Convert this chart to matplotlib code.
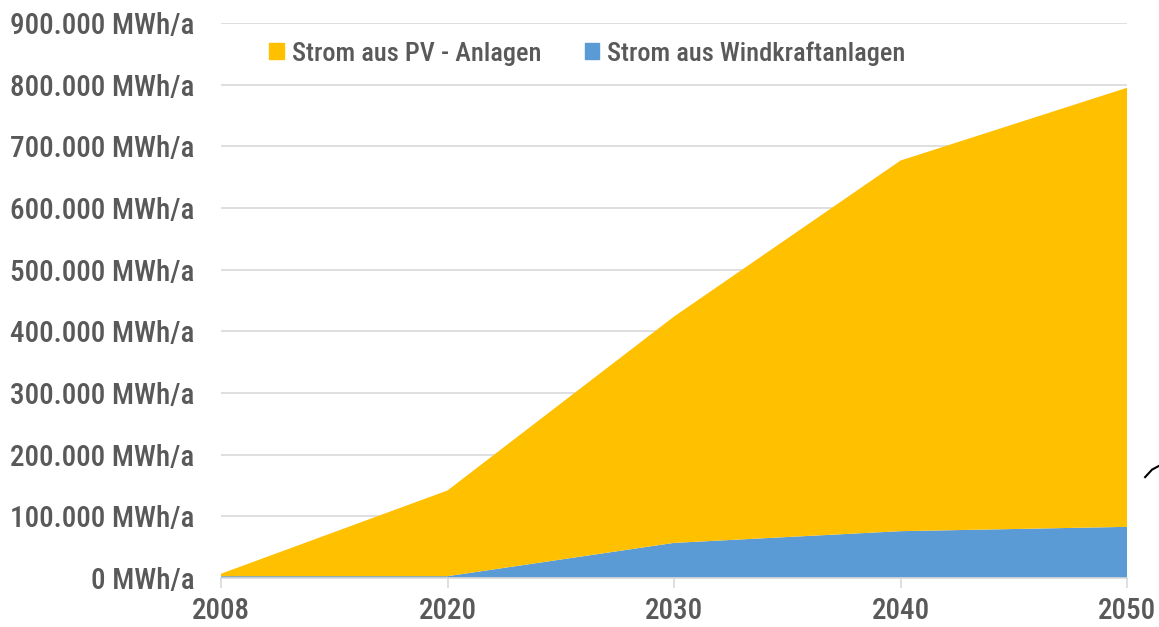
import matplotlib
matplotlib.use('Agg')
import matplotlib.pyplot as plt
from matplotlib.patches import Patch

# data (MWh/a)
years = ["2008", "2020", "2030", "2040", "2050"]
wind = [3000, 3000, 57000, 76000, 83000]
pv = [4000, 139000, 367000, 601000, 712000]

ORANGE = "#FFC000"
BLUE = "#5B9BD5"
TXT = "#595959"
GRID = "#D9D9D9"

plt.rcParams['font.family'] = ['Roboto Condensed', 'DejaVu Sans']
plt.rcParams['font.weight'] = 'medium'

fig = plt.figure(figsize=(11.59, 6.27), dpi=100, facecolor="white")
ax = fig.add_axes([0.1907, 0.0781, 0.7817, 0.8852])

x = list(range(len(years)))
ax.stackplot(x, wind, pv, colors=[BLUE, ORANGE], linewidth=0, zorder=2)

ax.set_xlim(0, len(years) - 1)
ax.set_ylim(0, 900000)
ax.set_yticks(range(0, 900001, 100000))
ax.set_yticklabels([f"{v:,}".replace(",", ".") + " MWh/a" for v in range(0, 900001, 100000)])
ax.set_xticks(x)
ax.set_xticklabels(years)

ax.grid(axis='y', color=GRID, linewidth=1.2, zorder=0)
ax.set_axisbelow(True)
for s in ['top', 'right', 'left']:
    ax.spines[s].set_visible(False)
ax.spines['bottom'].set_color(GRID)
ax.spines['bottom'].set_linewidth(1.2)
ax.tick_params(axis='y', length=0, pad=19, labelsize=21, labelcolor=TXT)
ax.tick_params(axis='x', length=7, color=GRID, width=1.2, pad=7, labelsize=21, labelcolor=TXT)

handles = [Patch(color=ORANGE, label="Strom aus PV - Anlagen"),
           Patch(color=BLUE, label="Strom aus Windkraftanlagen")]
leg = ax.legend(handles=handles, loc='upper left', bbox_to_anchor=(0.027, 1.01), ncol=2,
                frameon=False, fontsize=19, handlelength=0.55, handleheight=0.55,
                handletextpad=0.3, columnspacing=1.65, labelcolor=TXT)

# small stroke at right edge
fig.add_artist(plt.Line2D([0.988, 0.994, 1.0], [0.239, 0.251, 0.257], color='black', linewidth=1.5))

fig.savefig("out.png", dpi=100, facecolor="white")
